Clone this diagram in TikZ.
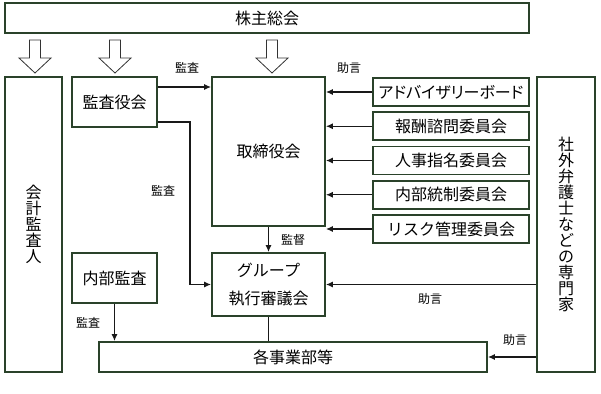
\documentclass[tikz,border=0pt]{standalone}
\usepackage{fontspec}
\setmainfont{Noto Sans CJK JP}
\usetikzlibrary{arrows.meta}
\definecolor{boxline}{RGB}{42,66,42}
\tikzset{
  box/.style={draw=boxline,line width=1.6pt,inner sep=0pt,align=center,
    font=\fontsize{16}{16}\selectfont},
  arr/.style={line width=1.4pt,draw=black!90,-{Latex[length=7pt,width=6pt]}},
  plain/.style={line width=1.4pt,draw=black!90},
  lbl/.style={inner sep=0pt,font=\fontsize{12}{12}\selectfont},
  hollow/.style={draw=black!80,line width=0.8pt,fill=white}
}
\begin{document}
\begin{tikzpicture}[x=1pt,y=-1pt]
    \useasboundingbox (0,0) rectangle (601,393);
    \node[box,minimum width=524pt,minimum height=30pt] (soukai) at (267,18) {株主総会};
    \foreach \c in {35,115,272}{
      \draw[hollow] (\c-5.5,40) -- (\c+5.5,40) -- (\c+5.5,58) -- (\c+16,58)
        -- (\c,73) -- (\c-16,58) -- (\c-5.5,58) -- cycle;
    }

    \node[box,minimum width=57pt,minimum height=295pt] (kaikei) at (33.5,224.5) {会\\計\\監\\査\\人};
    \node[box,minimum width=85pt,minimum height=50pt] (kansayaku) at (114.5,102) {監査役会};
    \node[box,minimum width=113pt,minimum height=149pt] (torishimari) at (268.5,151.5) {取締役会};
    \node[box,minimum width=113pt,minimum height=63pt,
      font=\fontsize{16}{28}\selectfont] (group) at (268.5,284.5) {グループ\\執行審議会};
    \node[box,minimum width=85pt,minimum height=50pt] (naibu) at (114.5,278) {内部監査};
    \node[box,minimum width=388pt,minimum height=30pt] (jigyou) at (293,357) {各事業部等};
    \node[box,minimum width=58pt,minimum height=295pt] (senmon) at (566,224.5)
      {社\\外\\弁\\護\\士\\な\\ど\\の\\専\\門\\家};

    \foreach \i\y\t in {
        1/92/{\addfontfeature{RawFeature=+palt}アドバイザリーボード},
        2/126.25/報酬諮問委員会,
        3/160.5/人事指名委員会,
        4/194.75/内部統制委員会,
        5/229/リスク管理委員会}{
      \node[box,minimum width=156pt,minimum height=28pt] (c\i) at (451,\y) {\t};
      \draw[arr] (c\i.west) -- (c\i.west -| torishimari.east);
    }
    \node[lbl] (jogen1) at (349,68) {助言};

    \draw[arr] ([yshift=15pt]kansayaku.east) -- ([yshift=15pt]kansayaku.east -| torishimari.west);
    \node[lbl] (kansa1) at (187,68) {監査};
    \draw[arr] ([yshift=-20pt]kansayaku.east) -- ++(32,0) |- (group.west);
    \node[lbl] (kansa2) at (163,191) {監査};

    \draw[arr] (torishimari.south) -- (group.north);
    \node[lbl] (kantoku) at (293,240) {監督};
    \draw[plain] (group.south) -- (group.south |- jigyou.north);

    \draw[arr] (naibu.south) -- (naibu.south |- jigyou.north);
    \node[lbl] (kansa3) at (88,323) {監査};

    \draw[arr] (group.east -| senmon.west) -- (group.east);
    \node[lbl] (jogen2) at (430,299) {助言};
    \draw[arr] (jigyou.east -| senmon.west) -- (jigyou.east);
    \node[lbl] (jogen3) at (515,340) {助言};
\end{tikzpicture}
\end{document}
